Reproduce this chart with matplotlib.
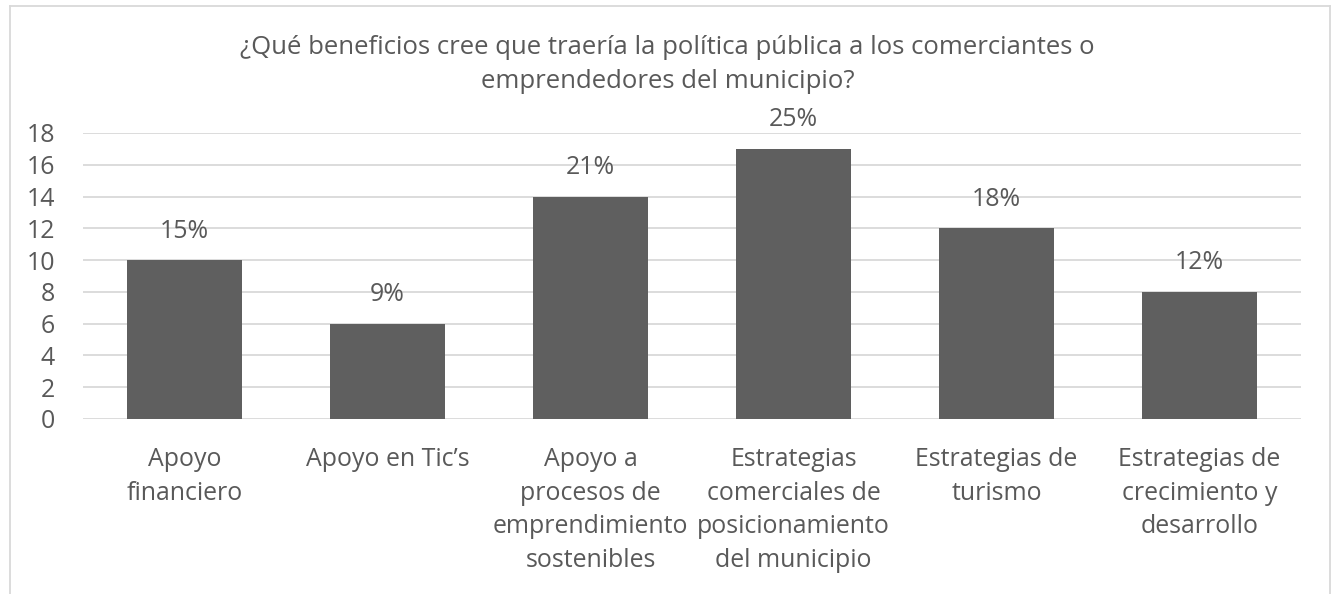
import matplotlib
matplotlib.use("Agg")
import matplotlib.pyplot as plt
from matplotlib.lines import Line2D

categories = ["Apoyo\nfinanciero", "Apoyo en Tic’s", "Apoyo a\nprocesos de\nemprendimiento\nsostenibles",
              "Estrategias\ncomerciales de\nposicionamiento\ndel municipio", "Estrategias de\nturismo",
              "Estrategias de\ncrecimiento y\ndesarrollo"]
values = [10, 6, 14, 17, 12, 8]
pct_labels = ["15%", "9%", "21%", "25%", "18%", "12%"]
yticks = [0, 2, 4, 6, 8, 10, 12, 14, 16, 18]
title = "¿Qué beneficios cree que traería la política pública a los comerciantes o\nemprendedores del municipio?"

W, H = 1335, 594
plt.rcParams['font.family'] = ['Open Sans', 'DejaVu Sans']
txt = '#595959'
fs = 17.9
fig = plt.figure(figsize=(W/100, H/100), dpi=100)
ax = fig.add_axes([83/W, 1-419/H, (1301-83)/W, (419-133)/H])

x = list(range(len(values)))
ax.bar(x, values, width=0.57, color='#5f5f5f', zorder=3)
ax.set_xlim(-0.5, len(values)-0.5)
ax.set_ylim(0, 18)
ax.set_yticks(yticks)
ax.grid(axis='y', color='#d9d9d9', linewidth=1.3, zorder=0)
for s in ax.spines.values():
    s.set_visible(False)
ax.tick_params(axis='both', length=0, labelsize=fs, colors=txt)
ax.tick_params(axis='y', pad=20)
ax.set_xticks(x)
ax.set_xticklabels(categories, linespacing=1.46)
ax.tick_params(axis='x', pad=20)
for xi, v, lab in zip(x, values, pct_labels):
    ax.annotate(lab, (xi, v), xytext=(0, 29), textcoords='offset pixels',
                ha='center', va='center', fontsize=fs, color=txt)

fig.text(0.5, 1-64.5/H, title, ha='center', va='center', fontsize=18.5, color=txt, linespacing=1.43)

# chart border (left, top, right)
bc = '#d9d9d9'
fig.add_artist(Line2D([9.5/W, 9.5/W], [0, 1-6/H], transform=fig.transFigure, color=bc, lw=1.3))
fig.add_artist(Line2D([9.5/W, 1330/W], [1-6/H, 1-6/H], transform=fig.transFigure, color=bc, lw=1.3))
fig.add_artist(Line2D([1330/W, 1330/W], [0, 1-6/H], transform=fig.transFigure, color=bc, lw=1.3))

fig.savefig("out.png", dpi=100)
